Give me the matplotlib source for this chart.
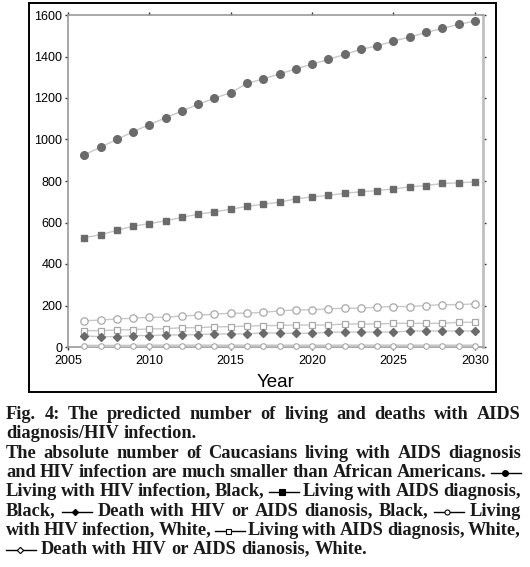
import math
import numpy as np
import matplotlib
matplotlib.use("Agg")
import matplotlib.pyplot as plt
from matplotlib.lines import Line2D
from matplotlib.patches import Rectangle
from matplotlib.font_manager import FontProperties

# data
years = list(range(2006, 2031))
hiv_black = [926, 963, 1000, 1038, 1071, 1105, 1137, 1170, 1199, 1226, 1270, 1292, 1316,
             1340, 1363, 1386, 1410, 1434, 1452, 1474, 1494, 1516, 1535, 1555, 1571]
aids_black = [527, 541, 562, 582, 595, 608, 625, 640, 651, 664, 678, 688, 698,
              714, 723, 731, 741, 748, 754, 762, 772, 778, 788, 791, 796]
death_black = [53, 50, 50, 55, 55, 58, 58, 60, 63, 63, 63, 69, 66,
               66, 66, 71, 72, 72, 72, 72, 77, 77, 77, 77, 77]
hiv_white = [126, 130, 135, 139, 143, 143, 150, 153, 158, 163, 163, 167, 174,
             179, 179, 184, 187, 187, 192, 195, 195, 200, 204, 204, 208]
aids_white = [79, 79, 82, 84, 87, 88, 93, 93, 97, 98, 101, 103, 104,
              106, 106, 106, 111, 111, 111, 114, 114, 114, 114, 119, 119]
death_white = [6, 6, 6, 6, 7, 7, 7, 7, 7, 7, 7, 7, 7,
               7, 7, 7, 7, 7, 7, 7, 7, 7, 7, 7, 7]

xticks = [2005, 2010, 2015, 2020, 2025, 2030]
yticks = [0, 200, 400, 600, 800, 1000, 1200, 1400, 1600]

caption = [
    (["Fig. 4: The predicted number of living and deaths with AIDS"], True),
    (["diagnosis/HIV infection."], False),
    (["The absolute number of Caucasians living with AIDS diagnosis"], True),
    (["and HIV infection are much smaller than African Americans.", "o"], True),
    (["Living with HIV infection, Black,", "s", "Living with AIDS diagnosis,"], True),
    (["Black,", "D", "Death with HIV or AIDS dianosis, Black,", "wo", "Living"], True),
    (["with HIV infection, White,", "ws", "Living with AIDS diagnosis, White,"], True),
    (["wD", "Death with HIV or AIDS dianosis, White."], False),
]

W, H = 530, 567
fig = plt.figure(figsize=(W / 100, H / 100), dpi=100)
fig.patch.set_facecolor("white")

ax = fig.add_axes([68 / W, (H - 347) / H, 415 / W, 332 / H])

dark = "#6b6b6b"
lc = "#c8c8c8"
oe = "#a8a8a8"
ax.plot(years, hiv_black, color=lc, lw=1, marker="o", ms=5.5, mfc=dark, mec=dark, zorder=3)
ax.plot(years, aids_black, color=lc, lw=1, marker="s", ms=5, mfc=dark, mec=dark, zorder=3)
ax.plot(years, hiv_white, color=lc, lw=1, marker="o", ms=5.3, mfc="white", mec=oe, mew=0.9, zorder=3)
ax.plot(years, aids_white, color=lc, lw=1, marker="s", ms=5, mfc="white", mec=oe, mew=0.9, zorder=3)
ax.plot(years, death_black, color=lc, lw=1, marker="D", ms=3.8, mfc=dark, mec=dark, zorder=3)
ax.plot(years, death_white, color=lc, lw=1.6, marker="o", ms=4, mfc="white", mec=oe, mew=0.8,
        zorder=3, clip_on=False)

ax.set_xlim(2005, 2030.5)
ax.set_ylim(0, 1600)
ax.set_xticks(xticks)
ax.set_yticks(yticks)
ax.tick_params(labelsize=9, length=2, width=1, color="#333333", pad=2,
               top=True, right=True, direction="out")
ax.tick_params(axis="x", pad=3.5)
for s in ["left", "bottom", "top"]:
    ax.spines[s].set_color("#999999")
    ax.spines[s].set_linewidth(1.2)
ax.spines["right"].set_color("#c0c0c0")
ax.spines["right"].set_linewidth(2)
for lab in ax.get_xticklabels() + ax.get_yticklabels():
    lab.set_family("Liberation Sans")
ax.set_xlabel("Year", fontsize=13.5, family="Liberation Sans", labelpad=5)

# black frame around the chart panel
fig.patches.append(Rectangle((29 / W, (H - 392) / H), 467 / W, 389 / H,
                             transform=fig.transFigure, fill=False,
                             ec="black", lw=1.4))

# justified caption, laid out word by word
fig.canvas.draw()
renderer = fig.canvas.get_renderer()
font = dict(family="Liberation Serif", weight="bold", size=13.2, color="#1a1a1a")
fp = FontProperties(family="Liberation Serif", weight="bold", size=13.2)
left, right = 6, 521
sym_w = 30
base0, step = 419, 19.3


def wid(s):
    t = fig.text(0, 0, s, **font)
    w = t.get_window_extent(renderer).width
    t.remove()
    return w


def baseline_for(s, row):
    # keep every word on the same pixel row despite Agg's rounding
    _, h, d = renderer.get_text_width_height_descent(s, fp, ismath=False)
    return H - row - math.floor(h) + math.floor(h - d) + d


space = wid("a b") - wid("ab")
for i, (parts, justify) in enumerate(caption):
    y = round(base0 + i * step)
    tokens = []
    for p in parts:
        if p in ("o", "s", "D", "wo", "ws", "wD"):
            tokens.append(("sym", p, sym_w))
        else:
            for w in p.split(" "):
                tokens.append(("txt", w, wid(w)))
    total = sum(t[2] for t in tokens)
    if justify and len(tokens) > 1:
        gap = (right - left - total) / (len(tokens) - 1)
    else:
        gap = space
    x = left
    for kind, s, w in tokens:
        if kind == "txt":
            fig.text(x / W, baseline_for(s, y) / H, s, va="baseline", ha="left", **font)
        else:
            ym = (H - (y - 4.5)) / H
            fig.add_artist(Line2D([x / W, (x + w) / W], [ym, ym], transform=fig.transFigure,
                                  color="black", lw=1))
            filled = not s.startswith("w")
            m = s[-1]
            ms = {"o": 4.2, "s": 4, "D": 3.2}[m] if filled else {"o": 3.6, "s": 3.6, "D": 3.2}[m]
            fig.add_artist(Line2D([(x + w * 0.45) / W], [ym], transform=fig.transFigure,
                                  marker=m, ms=ms, mfc="black" if filled else "white",
                                  mec="black", mew=0.8, lw=0))
        x += w + gap

fig.savefig("out.png", dpi=100)
